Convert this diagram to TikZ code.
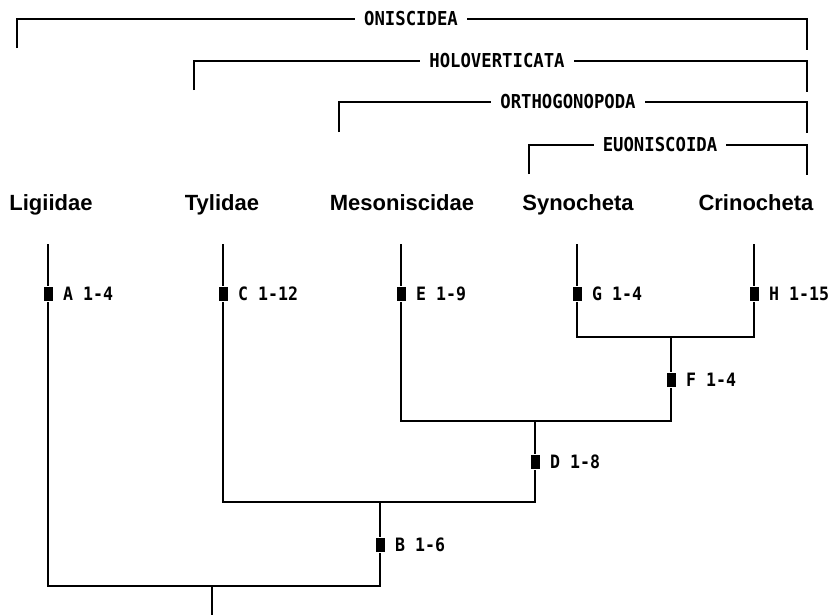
\documentclass[tikz,border=0pt]{standalone}
\usepackage{fontspec}
\setmainfont{Liberation Sans}
\newfontfamily\cladefont[FakeStretch=0.9]{DejaVu Sans Mono}
\begin{document}
\begin{tikzpicture}[x=1pt,y=-1pt,
  tree/.style={line width=2.6pt,line cap=rect},
  brk/.style={line width=2.2pt},
  taxon/.style={anchor=base,inner sep=0pt,font=\fontsize{22}{26}\selectfont\bfseries},
  cladelbl/.style={fill=white,inner xsep=9pt,inner ysep=2pt,font=\cladefont\fontsize{19.2}{22}\selectfont\bfseries},
  marker/.style={fill=black,draw=none,minimum width=9pt,minimum height=14pt,inner sep=0pt,outer sep=2.5pt},
  mlabel/.style={anchor=west,inner sep=0pt,xshift=8pt,font=\cladefont\fontsize{18.4}{21}\selectfont\bfseries}
]
\useasboundingbox (0,0) rectangle (832,614);
% ---------- brackets ----------
\coordinate (oL) at (17,48); \coordinate (oLt) at (17,19);
\coordinate (oRt) at (807,19); \coordinate (oR) at (807,50);
\draw[brk] (oL) -- (oLt) -- (oRt) -- (oR);
\node[cladelbl] (onis) at (411,19) {ONISCIDEA};
\coordinate (hL) at (194,90); \coordinate (hLt) at (194,61);
\coordinate (hRt) at (807,61); \coordinate (hR) at (807,92);
\draw[brk] (hL) -- (hLt) -- (hRt) -- (hR);
\node[cladelbl] (holo) at (497,61) {HOLOVERTICATA};
\coordinate (rL) at (339,132); \coordinate (rLt) at (339,102);
\coordinate (rRt) at (807,102); \coordinate (rR) at (807,133);
\draw[brk] (rL) -- (rLt) -- (rRt) -- (rR);
\node[cladelbl] (orth) at (568,102) {ORTHOGONOPODA};
\coordinate (eL) at (529,174); \coordinate (eLt) at (529,145);
\coordinate (eRt) at (807,145); \coordinate (eR) at (807,175);
\draw[brk] (eL) -- (eLt) -- (eRt) -- (eR);
\node[cladelbl] (euon) at (660,145) {EUONISCOIDA};
% ---------- taxa ----------
\node[taxon] (lig) at (51,210) {Ligiidae};
\node[taxon] (tyl) at (222,210) {Tylidae};
\node[taxon] (mes) at (402,210) {Mesoniscidae};
\node[taxon] (syn) at (578,210) {Synocheta};
\node[taxon] (cri) at (756,210) {Crinocheta};
% ---------- tree coordinates ----------
\coordinate (ligtop) at (48,245);
\coordinate (tyltop) at (223,245);
\coordinate (mestop) at (401,245);
\coordinate (syntop) at (577,245);
\coordinate (critop) at (754,245);
\coordinate (gh1) at (577,337); \coordinate (gh2) at (754,337); \coordinate (ghm) at (671,337);
\coordinate (md1) at (401,421); \coordinate (md2) at (671,421); \coordinate (mdm) at (535,421);
\coordinate (tb1) at (223,502); \coordinate (tb2) at (535,502); \coordinate (tbm) at (380,502);
\coordinate (rt1) at (48,586); \coordinate (rt2) at (380,586); \coordinate (rtm) at (212,586);
\coordinate (rootend) at (212,616);
% ---------- markers ----------
\node[marker] (A) at (48,294) {};  \node[mlabel] (Al) at (A.east) {A 1-4};
\node[marker] (C) at (223,294) {}; \node[mlabel] (Cl) at (C.east) {C 1-12};
\node[marker] (E) at (401,294) {}; \node[mlabel] (El) at (E.east) {E 1-9};
\node[marker] (G) at (577,294) {}; \node[mlabel] (Gl) at (G.east) {G 1-4};
\node[marker] (H) at (754,294) {}; \node[mlabel] (Hl) at (H.east) {H 1-15};
\node[marker] (F) at (671,380) {}; \node[mlabel] (Fl) at (F.east) {F 1-4};
\node[marker] (D) at (535,462) {}; \node[mlabel] (Dl) at (D.east) {D 1-8};
\node[marker] (B) at (380,545) {}; \node[mlabel] (Bl) at (B.east) {B 1-6};
% ---------- branches ----------
\draw[tree] (ligtop) -- (A);
\draw[tree] (tyltop) -- (C);
\draw[tree] (mestop) -- (E);
\draw[tree] (syntop) -- (G);
\draw[tree] (critop) -- (H);
\draw[tree] (G) -- (gh1) -- (gh2) -- (H);
\draw[tree] (ghm) -- (F);
\draw[tree] (E) -- (md1) -- (md2) -- (F);
\draw[tree] (mdm) -- (D);
\draw[tree] (C) -- (tb1) -- (tb2) -- (D);
\draw[tree] (tbm) -- (B);
\draw[tree] (A) -- (rt1) -- (rt2) -- (B);
\draw[tree] (rtm) -- (rootend);
\end{tikzpicture}
\end{document}
